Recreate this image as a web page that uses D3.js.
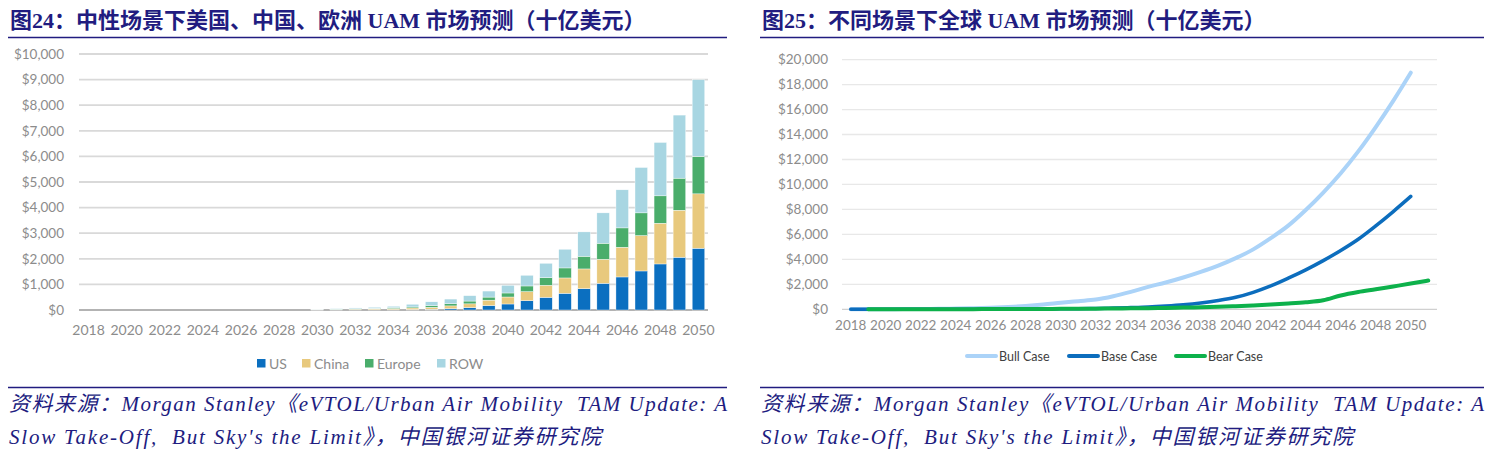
<!DOCTYPE html>
<html><head><meta charset="utf-8">
<script src="https://cdn.jsdelivr.net/npm/d3@7/dist/d3.min.js"></script>
<style>body{margin:0;background:#fff}svg{display:block}</style>
</head><body>
<svg id="c" width="1496" height="457"></svg>
<script>
// ---------- Data: Figure 24 (stacked bars) ----------
const barYears = [2018,2019,2020,2021,2022,2023,2024,2025,2026,2027,2028,2029,2030,2031,2032,2033,2034,2035,2036,2037,2038,2039,2040,2041,2042,2043,2044,2045,2046,2047,2048,2049,2050];
const usValues     = [0,0,0,0,0,0,0,0,0,0,0,0, 2, 5, 8,10,12,15, 27, 53, 93,175,235,365,495,652,834,1043,1291,1525,1799,2060,2412];
const chinaValues  = [0,0,0,0,0,0,0,0,0,0,0,0, 4,15,25,35,45,65, 80,107,147,210,273,352,470,600,770, 939,1160,1382,1591,1838,2125];
const europeValues = [0,0,0,0,0,0,0,0,0,0,0,0, 3,12,17,22,35,40, 60, 85,110,120,157,222,300,391,495, 626, 756, 887,1069,1252,1460];
const rowValues    = [0,0,0,0,0,0,0,0,0,0,0,0, 4,20,30,40,55,105,153,182,210,235,300,417,560,730,952,1186,1487,1773,2086,2464,2999];
const barSeriesNames = ["US","China","Europe","ROW"];
const barColors = ["#0b6fc0","#e8c97d","#4aad6b","#a8d6e2"];
const barYTicks = [0,1000,2000,3000,4000,5000,6000,7000,8000,9000,10000];
const barXTickYears = [2018,2020,2022,2024,2026,2028,2030,2032,2034,2036,2038,2040,2042,2044,2046,2048,2050];

// ---------- Data: Figure 25 (lines) ----------
const lineYears = [2018,2019,2020,2021,2022,2023,2024,2025,2026,2027,2028,2029,2030,2031,2032,2033,2034,2035,2036,2037,2038,2039,2040,2041,2042,2043,2044,2045,2046,2047,2048,2049,2050,2051];
const bullValues = [0,5,10,15,25,40,60,90,130,190,270,380,520,650,780,1050,1400,1800,2150,2550,3000,3500,4100,4800,5700,6700,7950,9350,10900,12650,14600,16700,18950,null];
const baseValues = [0,0,2,4,6,8,10,12,14,15,18,25,35,50,70,100,140,190,270,370,510,700,960,1360,1870,2490,3160,3900,4710,5610,6680,7830,9040,null];
const bearValues = [null,0,2,4,6,8,10,13,16,20,25,30,36,43,52,62,75,90,110,135,165,200,250,310,380,460,560,720,1100,1380,1600,1830,2060,2300];
const lineSeriesNames = ["Bull Case","Base Case","Bear Case"];
const lineColors = ["#abd3f8","#0c6dbd","#0db14b"];
const lineYTicks = [0,2000,4000,6000,8000,10000,12000,14000,16000,18000,20000];
const lineXTickYears = [2018,2020,2022,2024,2026,2028,2030,2032,2034,2036,2038,2040,2042,2044,2046,2048,2050];

// ---------- Text ----------
const title24 = "图24：中性场景下美国、中国、欧洲 UAM 市场预测（十亿美元）";
const title25 = "图25：不同场景下全球 UAM 市场预测（十亿美元）";
const sourceLine1 = "资料来源：Morgan Stanley《eVTOL/Urban Air Mobility  TAM Update: A";
const sourceLine2 = "Slow Take-Off,  But Sky's the Limit》，中国银河证券研究院";

const svg = d3.select("#c");
const navy = "#211c80";
const fmt = d3.format("$,");
const axisFont = "Lato, 'Open Sans', sans-serif";

// ---------- Headers / footers ----------
function frame(x0, x1, title) {
  svg.append("text").attr("x", x0 + 2).attr("y", 28)
    .attr("font-family", "'Liberation Serif','Noto Sans CJK SC',serif")
    .attr("font-weight", "bold").attr("font-size", 22).attr("fill", navy)
    .style("white-space","pre").text(title);
  svg.append("line").attr("x1", x0).attr("x2", x1).attr("y1", 37.5).attr("y2", 37.5)
    .attr("stroke", navy).attr("stroke-width", 1.3);
  svg.append("line").attr("x1", x0).attr("x2", x1).attr("y1", 387.5).attr("y2", 387.5)
    .attr("stroke", navy).attr("stroke-width", 1.3);
  svg.append("text").attr("x", x0 + 1).attr("y", 411)
    .attr("font-family", "'Liberation Serif','Noto Sans CJK SC',serif")
    .attr("font-style", "italic").attr("font-size", 21).attr("fill", navy)
    .attr("textLength", x1 - x0 - 1).attr("lengthAdjust", "spacing")
    .style("white-space","pre").text(sourceLine1);
  svg.append("text").attr("x", x0 + 1).attr("y", 444)
    .attr("font-family", "'Liberation Serif','Noto Sans CJK SC',serif")
    .attr("font-style", "italic").attr("font-size", 21).attr("fill", navy)
    .attr("textLength", 592).attr("lengthAdjust", "spacing")
    .style("white-space","pre").text(sourceLine2);
}
frame(8, 727, title24);
frame(760, 1484, title25);

// ---------- Figure 24: stacked bars ----------
{
  const x = d3.scaleBand().domain(barYears).range([79, 708]).paddingInner(0.34).paddingOuter(0.17);
  const y = d3.scaleLinear().domain([0, 10000]).range([310, 54]);
  const g = svg.append("g");
  g.append("g").selectAll("line").data(barYTicks).join("line")
    .attr("x1", 79).attr("x2", 708)
    .attr("y1", d => y(d)).attr("y2", d => y(d))
    .attr("stroke", d => d === 0 ? "#b3b3b3" : "#d9d9d9").attr("stroke-width", d => d === 0 ? 2.2 : 1.8);
  const yAxis = d3.axisLeft(y).tickValues(barYTicks).tickFormat(fmt).tickSize(0).tickPadding(0);
  const ya = g.append("g").attr("transform", "translate(64,0)").call(yAxis);
  ya.select(".domain").remove();
  ya.selectAll("text").attr("font-family", axisFont).attr("font-size", 13.5).attr("fill", "#8c8c8c");
  const table = barYears.map((yr, i) => ({year: yr, US: usValues[i], China: chinaValues[i], Europe: europeValues[i], ROW: rowValues[i]}));
  const stack = d3.stack().keys(barSeriesNames)(table);
  g.append("g").selectAll("g").data(stack).join("g")
    .attr("fill", (d, i) => barColors[i])
    .selectAll("rect").data(d => d).join("rect")
    .attr("x", d => x(d.data.year)).attr("width", x.bandwidth())
    .attr("y", d => y(d[1])).attr("height", d => Math.max(0, y(d[0]) - y(d[1])))
    .attr("stroke", "#fff").attr("stroke-width", 0.4);
  const xAxis = d3.axisBottom(x).tickValues(barXTickYears).tickSize(0).tickPadding(0);
  const xa = g.append("g").attr("transform", "translate(0,325)").call(xAxis);
  xa.select(".domain").remove();
  xa.selectAll("text").attr("font-family", axisFont).attr("font-size", 14).attr("fill", "#8c8c8c");
  const legX = [257, 302, 365, 437];
  const lg = g.append("g");
  barSeriesNames.forEach((n, i) => {
    lg.append("rect").attr("x", legX[i]).attr("y", 359).attr("width", 8.5).attr("height", 8.5).attr("fill", barColors[i]);
    lg.append("text").attr("x", legX[i] + 12).attr("y", 368.5).attr("font-family", axisFont)
      .attr("font-size", 14).attr("fill", "#8c8c8c").text(n);
  });
}

// ---------- Figure 25: lines ----------
{
  const x = d3.scaleBand().domain(lineYears).range([842, 1437]);
  const cx = d => x(d) + x.bandwidth() / 2;
  const y = d3.scaleLinear().domain([0, 20000]).range([309.3, 59.6]);
  const g = svg.append("g");
  g.append("g").selectAll("line").data(lineYTicks).join("line")
    .attr("x1", 842).attr("x2", 1437)
    .attr("y1", d => y(d)).attr("y2", d => y(d))
    .attr("stroke", d => d === 0 ? "#d0d0d0" : "#e8e8e8").attr("stroke-width", 1.3);
  const yAxis = d3.axisLeft(y).tickValues(lineYTicks).tickFormat(fmt).tickSize(0).tickPadding(0);
  const ya = g.append("g").attr("transform", "translate(828,0)").call(yAxis);
  ya.select(".domain").remove();
  ya.selectAll("text").attr("font-family", axisFont).attr("font-size", 13.5).attr("fill", "#8c8c8c");
  const xAxis = d3.axisBottom(x).tickValues(lineXTickYears).tickSize(0).tickPadding(0);
  const xa = g.append("g").attr("transform", "translate(0,320)").call(xAxis);
  xa.select(".domain").remove();
  xa.selectAll("text").attr("font-family", axisFont).attr("font-size", 13.5).attr("fill", "#8c8c8c");

  const seriesVals = [bullValues, baseValues, bearValues];
  const widths = [4, 3.5, 4];
  const line = d3.line().defined(d => d.v !== null).x(d => cx(d.year)).y(d => y(d.v)).curve(d3.curveMonotoneX);
  seriesVals.forEach((vals, i) => {
    const pts = lineYears.map((yr, j) => ({year: yr, v: vals[j]}));
    g.append("path").datum(pts).attr("d", line).attr("fill", "none")
      .attr("stroke", lineColors[i]).attr("stroke-width", widths[i]).attr("stroke-linecap", "round").attr("stroke-linejoin", "round");
  });
  const legX = [967, 1069, 1176];
  lineSeriesNames.forEach((n, i) => {
    g.append("line").attr("x1", legX[i]).attr("x2", legX[i] + 29).attr("y1", 356).attr("y2", 356)
      .attr("stroke", lineColors[i]).attr("stroke-width", 4).attr("stroke-linecap", "round");
    g.append("text").attr("x", legX[i] + 32).attr("y", 360.5).attr("font-family", axisFont)
      .attr("font-size", 12.5).attr("fill", "#404040").text(n);
  });
}
</script>
</body></html>
